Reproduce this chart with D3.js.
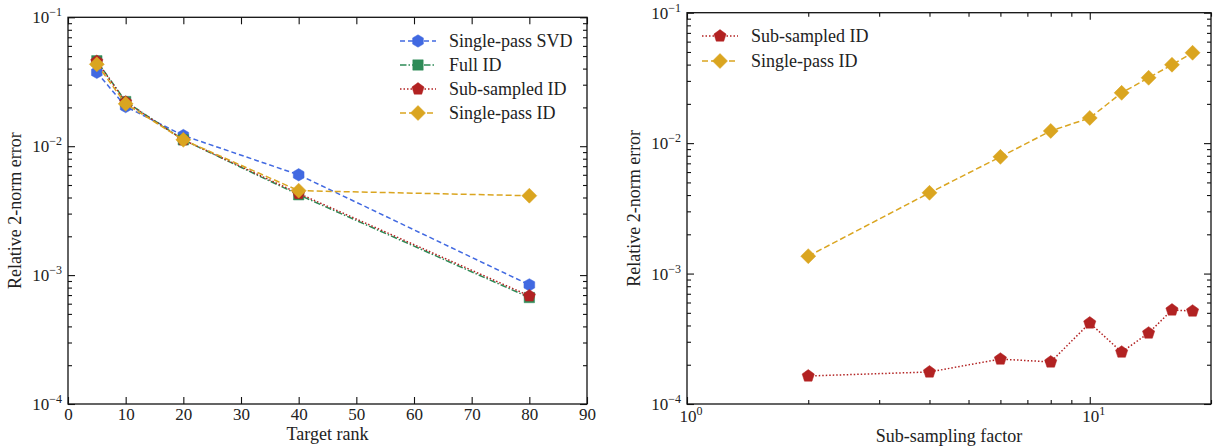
<!DOCTYPE html>
<html>
<head>
<meta charset="utf-8">
<script src="https://cdn.jsdelivr.net/npm/d3@7"></script>
<style>
  body { margin: 0; background: #fff; }
  svg { display: block; }
  svg text { font-family: "Liberation Serif", "DejaVu Serif", serif !important; fill: #222; }
</style>
</head>
<body>
<svg id="chart" width="1217" height="448" font-family="Liberation Serif, serif"></svg>
<script>
// ---------- Data (left panel) ----------
const ranks = [5, 10, 20, 40, 80];
const svdErr     = [0.0374, 0.0203, 0.0121, 0.0060, 0.00084];
const fullIdErr  = [0.0460, 0.0222, 0.0112, 0.0042, 0.00067];
const subIdErr   = [0.0455, 0.0220, 0.0112, 0.0043, 0.00069];
const spIdErr    = [0.0432, 0.0213, 0.0112, 0.00452, 0.00413];
const leftXTicks = [0, 10, 20, 30, 40, 50, 60, 70, 80, 90];
const yDecades   = [-4, -3, -2, -1];

// ---------- Data (right panel) ----------
const factors      = [2, 4, 6, 8, 10, 12, 14, 16, 18];
const subSampErr   = [0.000164, 0.000176, 0.000221, 0.000210, 0.000418, 0.000250, 0.000350, 0.000526, 0.000516];
const singlePassErr= [0.00136, 0.00416, 0.00785, 0.0124, 0.0156, 0.0243, 0.0317, 0.0399, 0.0493];
const rightXDecades = [0, 1];

const leftLabels  = ["Single-pass SVD", "Full ID", "Sub-sampled ID", "Single-pass ID"];
const rightLabels = ["Sub-sampled ID", "Single-pass ID"];

const FONT = '"Liberation Serif", "DejaVu Serif", serif';
const svg = d3.select("#chart");

const styles = {
  svd:  {color: "#4169E1", dash: "5,3",           marker: "hex"},
  full: {color: "#2E8B57", dash: "6.5,2,1.5,2",   marker: "square"},
  sub:  {color: "#B22222", dash: "1.5,2",         marker: "pent"},
  sp:   {color: "#DAA520", dash: "6,3",           marker: "diamond"}
};

function polygon(n, r, rot) {
  const pts = [];
  for (let i = 0; i < n; i++) {
    const a = rot + i * 2 * Math.PI / n;
    pts.push([r * Math.sin(a), -r * Math.cos(a)]);
  }
  return "M" + pts.map(p => p[0].toFixed(2) + "," + p[1].toFixed(2)).join("L") + "Z";
}
const markerPath = {
  hex: polygon(6, 6.2, 0),
  pent: polygon(5, 6.4, 0),
  square: "M-5.2,-5.2L5.2,-5.2L5.2,5.2L-5.2,5.2Z",
  diamond: polygon(4, 7.5, 0)
};

function txt(g, size) {
  return g.append("text").style("font-family", FONT).style("font-size", (size || 18) + "px").attr("fill", "#222");
}

function supLabel(g, x, y, base, exp, anchor) {
  const t = txt(g, 17).attr("x", x).attr("y", y).attr("text-anchor", anchor);
  t.append("tspan").text(base);
  t.append("tspan").attr("dy", -7).style("font-size", "12px").text(exp);
  return t;
}

function logMinor(lo, hi) {
  const out = [];
  for (let d = lo; d < hi; d++) {
    for (let k = 2; k <= 9; k++) out.push(k * Math.pow(10, d));
  }
  return out;
}

function drawFrame(g, x, y) {
  const [x0, x1] = x.range();
  const [y1, y0] = y.range();
  g.append("rect").attr("x", x0).attr("y", y0).attr("width", x1 - x0).attr("height", y1 - y0)
    .attr("fill", "none").attr("stroke", "#111").attr("stroke-width", 1.3);
}

function drawYAxis(g, y, x) {
  const [x0, x1] = x.range();
  const majors = yDecades.map(d => Math.pow(10, d));
  const minors = logMinor(-4, -1);
  [[x0, d3.axisLeft], [x1, d3.axisRight]].forEach(([xx, ax]) => {
    g.append("g").attr("transform", `translate(${xx},0)`)
      .call(ax(y).tickValues(majors).tickSize(-7).tickFormat(""))
      .call(a => a.select(".domain").remove());
    g.append("g").attr("transform", `translate(${xx},0)`)
      .call(ax(y).tickValues(minors).tickSize(-4).tickFormat(""))
      .call(a => a.select(".domain").remove());
  });
  yDecades.forEach(d => {
    supLabel(g, x0 - 6, y(Math.pow(10, d)) + 6, "10", "−" + Math.abs(d), "end");
  });
  g.selectAll(".tick line").attr("stroke", "#111").attr("stroke-width", 1.1);
}

function drawSeries(g, x, y, xs, ys, st) {
  const line = d3.line().x((d, i) => x(xs[i])).y(d => y(d));
  g.append("path").datum(ys).attr("d", line)
    .attr("fill", "none").attr("stroke", st.color).attr("stroke-width", 1.5)
    .attr("stroke-dasharray", st.dash);
  g.selectAll(null).data(ys).enter().append("path")
    .attr("d", markerPath[st.marker])
    .attr("transform", (d, i) => `translate(${x(xs[i])},${y(d)})`)
    .attr("fill", st.color).attr("stroke", st.color).attr("stroke-width", 0.5);
}

function drawLegend(g, x0, y0, dy, labels, sts) {
  labels.forEach((lab, i) => {
    const yy = y0 + i * dy;
    const st = sts[i];
    g.append("line").attr("x1", x0).attr("x2", x0 + 36).attr("y1", yy).attr("y2", yy)
      .attr("stroke", st.color).attr("stroke-width", 1.5).attr("stroke-dasharray", st.dash);
    g.append("path").attr("d", markerPath[st.marker])
      .attr("transform", `translate(${x0 + 18},${yy})`)
      .attr("fill", st.color).attr("stroke", st.color).attr("stroke-width", 0.5);
    txt(g, 18).attr("x", x0 + 49).attr("y", yy + 6).text(lab);
  });
}

// ---------- Left panel ----------
{
  const g = svg.append("g");
  const x = d3.scaleLinear().domain([0, 90]).range([68, 587]);
  const y = d3.scaleLog().domain([1e-4, 1e-1]).range([404, 17.3]);

  drawSeries(g, x, y, ranks, svdErr, styles.svd);
  drawSeries(g, x, y, ranks, fullIdErr, styles.full);
  drawSeries(g, x, y, ranks, subIdErr, styles.sub);
  drawSeries(g, x, y, ranks, spIdErr, styles.sp);

  const xb = g.append("g").attr("transform", "translate(0,404)")
    .call(d3.axisBottom(x).tickValues(leftXTicks).tickSize(-7).tickPadding(4).tickFormat(d3.format("d")));
  xb.attr("font-family", null).attr("font-size", null);
  xb.select(".domain").remove();
  xb.selectAll("text").style("font-size", "17px").style("font-family", FONT).attr("fill", "#222");
  const xt = g.append("g").attr("transform", "translate(0,17.3)")
    .call(d3.axisTop(x).tickValues(leftXTicks).tickSize(-7).tickFormat(""));
  xt.select(".domain").remove();

  drawYAxis(g, y, x);
  drawFrame(g, x, y);

  txt(g).attr("x", (68 + 587) / 2).attr("y", 440).attr("text-anchor", "middle").text("Target rank");
  txt(g).attr("transform", `translate(21,${(17.3 + 404) / 2}) rotate(-90)`)
    .attr("text-anchor", "middle").text("Relative 2-norm error");

  drawLegend(g, 400, 41, 24, leftLabels, [styles.svd, styles.full, styles.sub, styles.sp]);
}

// ---------- Right panel ----------
{
  const g = svg.append("g");
  const x = d3.scaleLog().domain([1, 20]).range([687, 1211]);
  const y = d3.scaleLog().domain([1e-4, 1e-1]).range([404, 12.7]);

  drawSeries(g, x, y, factors, subSampErr, styles.sub);
  drawSeries(g, x, y, factors, singlePassErr, styles.sp);

  const majors = rightXDecades.map(d => Math.pow(10, d));
  const minors = [2, 3, 4, 5, 6, 7, 8, 9, 20];
  [[404, d3.axisBottom], [12.7, d3.axisTop]].forEach(([yy, ax]) => {
    const a1 = g.append("g").attr("transform", `translate(0,${yy})`)
      .call(ax(x).tickValues(majors).tickSize(-7).tickFormat(""));
    a1.select(".domain").remove();
    const a2 = g.append("g").attr("transform", `translate(0,${yy})`)
      .call(ax(x).tickValues(minors).tickSize(-4).tickFormat(""));
    a2.select(".domain").remove();
  });
  rightXDecades.forEach(d => {
    supLabel(g, x(Math.pow(10, d)) + 4, 422, "10", String(d), "middle");
  });

  drawYAxis(g, y, x);
  drawFrame(g, x, y);

  txt(g).attr("x", (687 + 1211) / 2).attr("y", 442).attr("text-anchor", "middle").text("Sub-sampling factor");
  txt(g).attr("transform", `translate(640,${(12.7 + 404) / 2}) rotate(-90)`)
    .attr("text-anchor", "middle").text("Relative 2-norm error");

  drawLegend(g, 702, 36, 25, rightLabels, [styles.sub, styles.sp]);
}
</script>
</body>
</html>
